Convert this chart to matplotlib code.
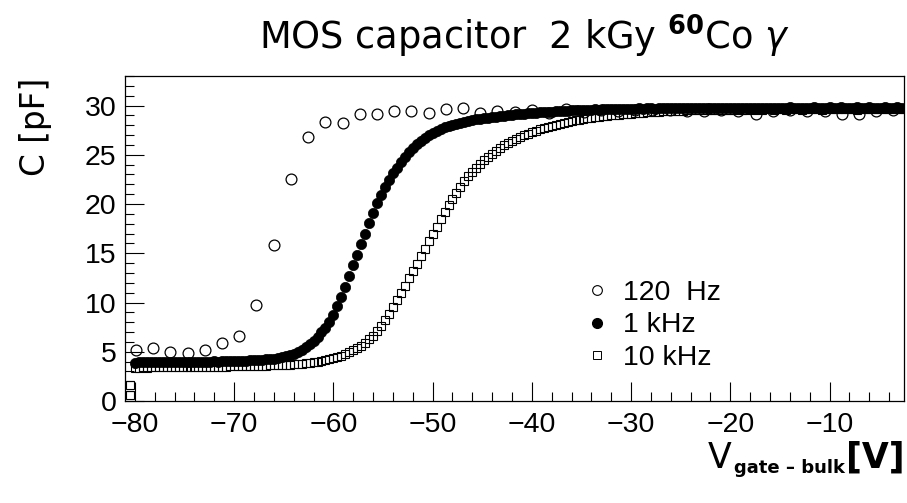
import numpy as np
import matplotlib
matplotlib.use("Agg")
from matplotlib import pyplot as plt
from matplotlib.ticker import MultipleLocator
from matplotlib.lines import Line2D

# 120 Hz sweep (sparse)
v_120hz = [-79.9, -78.17, -76.43, -74.7, -72.96, -71.23, -69.49, -67.76, -66.02, -64.29,
           -62.55, -60.82, -59.08, -57.35, -55.61, -53.88, -52.14, -50.41, -48.67, -46.94,
           -45.2, -43.47, -41.73, -40.0, -38.26, -36.53, -34.79, -33.06, -31.32, -29.59,
           -27.85, -26.12, -24.38, -22.65, -20.91, -19.18, -17.44, -15.71, -13.97, -12.24,
           -10.5, -8.77, -7.03, -5.3, -3.56]
c_120hz = [5.13, 5.37, 5.0, 4.83, 5.16, 5.84, 6.65, 9.73, 15.8, 22.55,
           26.85, 28.37, 28.27, 29.1, 29.14, 29.41, 29.41, 29.2, 29.6, 29.7,
           29.25, 29.45, 29.35, 29.5, 29.2, 29.6, 29.3, 29.55, 29.4, 29.55,
           29.55, 29.5, 29.4, 29.45, 29.5, 29.4, 29.1, 29.4, 29.5, 29.45,
           29.4, 29.1, 29.15, 29.4, 29.5]

# 1 kHz and 10 kHz: dense sweep from -80 V in 0.4 V steps
v_start, v_step = -80.0, 0.4
c_1khz = [
    3.90, 3.92, 3.91, 3.93, 3.92, 3.94, 3.93, 3.95, 3.94, 3.95,
    3.96, 3.95, 3.97, 3.96, 3.98, 3.97, 3.99, 4.00, 3.99, 4.01,
    4.02, 4.01, 4.03, 4.04, 4.04, 4.06, 4.07, 4.08, 4.10, 4.12,
    4.14, 4.16, 4.19, 4.22, 4.26, 4.31, 4.37, 4.44, 4.53, 4.64,
    4.78, 4.96, 5.18, 5.45, 5.76, 6.12, 6.52, 6.96, 7.45, 8.05,
    8.75, 9.6, 10.6, 11.6, 12.7, 13.8, 14.8, 15.9, 17.0, 18.1,
    19.1, 20.1, 20.9, 21.7, 22.4, 23.1, 23.7, 24.3, 24.8, 25.3,
    25.7, 26.1, 26.45, 26.75, 27.0, 27.25, 27.45, 27.6, 27.8, 27.95,
    28.05, 28.15, 28.25, 28.35, 28.45, 28.5, 28.6, 28.65, 28.7, 28.75,
    28.8, 28.85, 28.9, 28.95, 29.0, 29.05, 29.1, 29.1, 29.15, 29.2,
    29.2, 29.25, 29.3, 29.3, 29.35, 29.35, 29.4, 29.4, 29.45, 29.45,
    29.5, 29.5, 29.5, 29.55, 29.55, 29.55, 29.6, 29.55, 29.6, 29.6,
    29.6, 29.65, 29.6, 29.65, 29.65, 29.6, 29.65, 29.7, 29.65, 29.7,
    29.7, 29.65, 29.7, 29.7, 29.75, 29.7, 29.7, 29.75, 29.7, 29.75,
    29.75, 29.7, 29.75, 29.75, 29.7, 29.75, 29.8, 29.75, 29.75, 29.8,
    29.75, 29.8, 29.75, 29.8, 29.8, 29.75, 29.8, 29.8, 29.75, 29.8,
    29.8, 29.8, 29.75, 29.8, 29.8, 29.85, 29.8, 29.8, 29.75, 29.8,
    29.8, 29.85, 29.8, 29.8, 29.8, 29.85, 29.8, 29.8, 29.85, 29.8,
    29.8, 29.8, 29.85, 29.8, 29.8, 29.85, 29.8, 29.8, 29.8, 29.85,
    29.8, 29.8, 29.85, 29.8, 29.8, 29.8,
]
c_10khz = [
    3.40, 3.40, 3.41, 3.40, 3.41, 3.42, 3.41, 3.42, 3.42, 3.43,
    3.43, 3.44, 3.44, 3.45, 3.45, 3.46, 3.46, 3.47, 3.47, 3.48,
    3.48, 3.49, 3.50, 3.50, 3.51, 3.52, 3.53, 3.53, 3.54, 3.55,
    3.56, 3.57, 3.58, 3.59, 3.61, 3.62, 3.64, 3.66, 3.68, 3.70,
    3.73, 3.76, 3.79, 3.83, 3.87, 3.92, 3.98, 4.05, 4.13, 4.22,
    4.33, 4.45, 4.59, 4.75, 4.93, 5.13, 5.36, 5.62, 5.92, 6.26,
    6.64, 7.07, 7.6, 8.2, 8.85, 9.55, 10.25, 11.0, 11.7, 12.45,
    13.2, 13.95, 14.7, 15.45, 16.2, 16.95, 17.7, 18.45, 19.2, 19.9,
    20.55, 21.15, 21.75, 22.3, 22.8, 23.25, 23.7, 24.1, 24.45, 24.8,
    25.1, 25.4, 25.7, 25.95, 26.2, 26.4, 26.6, 26.8, 27.0, 27.15,
    27.3, 27.45, 27.6, 27.7, 27.85, 27.95, 28.05, 28.15, 28.25, 28.3,
    28.4, 28.5, 28.55, 28.6, 28.7, 28.75, 28.8, 28.85, 28.9, 28.95,
    29.0, 29.05, 29.05, 29.1, 29.15, 29.15, 29.2, 29.25, 29.25, 29.3,
    29.3, 29.35, 29.35, 29.4, 29.4, 29.4, 29.45, 29.45, 29.45, 29.5,
    29.5, 29.5, 29.5, 29.55, 29.5, 29.55, 29.55, 29.5, 29.55, 29.55,
    29.55, 29.55, 29.6, 29.55, 29.55, 29.6, 29.55, 29.6, 29.55, 29.6,
    29.6, 29.55, 29.6, 29.6, 29.55, 29.6, 29.6, 29.6, 29.55, 29.6,
    29.6, 29.6, 29.6, 29.55, 29.6, 29.6, 29.6, 29.6, 29.6, 29.6,
    29.6, 29.6, 29.55, 29.6, 29.6, 29.6, 29.6, 29.6, 29.6, 29.6,
    29.6, 29.6, 29.6, 29.6, 29.6, 29.6,
]
# two stray 10 kHz points at the very start of the sweep
v_10khz_edge = [-80.5, -80.5]
c_10khz_edge = [0.6, 1.6]

v_1khz = v_start + v_step * np.arange(len(c_1khz))
v_10khz = v_start + v_step * np.arange(len(c_10khz))

labels = ["120  Hz", "1 kHz", "10 kHz"]

W, H = 907, 503
fig = plt.figure(figsize=(W / 100, H / 100), dpi=100)
ax = fig.add_axes([125 / W, 1 - 401 / H, (904 - 125) / W, (401 - 76) / H])

ax.plot(v_120hz, c_120hz, "o", ms=7.8, mfc="none", mec="black", mew=0.9)
ax.plot(v_10khz, c_10khz, "s", ms=6.2, mfc="none", mec="black", mew=0.8)
ax.plot(v_10khz_edge, c_10khz_edge, "s", ms=6.2, mfc="none", mec="black", mew=0.8)
ax.plot(v_1khz, c_1khz, "o", ms=7.4, mfc="black", mec="black", mew=0.5)

ax.set_xlim(-81.0, -2.5)
ax.set_ylim(0, 33)
ax.xaxis.set_major_locator(MultipleLocator(10))
ax.xaxis.set_minor_locator(MultipleLocator(2))
ax.yaxis.set_major_locator(MultipleLocator(5))
ax.yaxis.set_minor_locator(MultipleLocator(1))
ax.tick_params(which="both", direction="in", top=False, right=False, width=0.8,
               labelsize=20.5)
ax.tick_params(which="major", length=13.5)
ax.tick_params(which="minor", length=6.5)
ax.tick_params(axis="x", pad=8)
ax.tick_params(axis="y", pad=6)
for lab in ax.get_xticklabels() + ax.get_yticklabels():
    lab.set_family("Liberation Sans")
for sp in ax.spines.values():
    sp.set_linewidth(0.9)

# legend
handles = [
    Line2D([], [], ls="none", marker="o", ms=7.0, mfc="none", mec="black", mew=0.8),
    Line2D([], [], ls="none", marker="o", ms=7.0, mfc="black", mec="black"),
    Line2D([], [], ls="none", marker="s", ms=6.2, mfc="none", mec="black", mew=0.7),
]
ax.legend(handles, labels, loc="upper left", bbox_to_anchor=(573 / W, 1 - 266 / H),
          bbox_transform=fig.transFigure, frameon=False,
          prop={"family": "Liberation Sans", "size": 20.5},
          handlelength=0.7, handletextpad=0.55, labelspacing=0.22, borderpad=0)

fig.text(524 / W, 1 - 36 / H, r"MOS capacitor  2 kGy $^{\mathbf{60}}$Co $\gamma$",
         ha="center", va="center", fontsize=26.5, family="DejaVu Sans")
fig.text(36 / W, 1 - 78 / H, "C [pF]", rotation=90, ha="center", va="top",
         fontsize=23.5, family="DejaVu Sans")

# x axis title: V with small bold subscript, then [V]
fig.text(731 / W, 1 - 458 / H, "V", ha="right", va="center", fontsize=25,
         family="DejaVu Sans")
fig.text(845 / W, 1 - 468 / H, "gate \u2013 bulk", ha="right", va="center",
         fontsize=13, fontweight="bold", family="DejaVu Sans")
fig.text(905 / W, 1 - 458 / H, "[V]", ha="right", va="center", fontsize=25,
         fontweight="bold", family="DejaVu Sans")

fig.savefig("out.png", dpi=100)
